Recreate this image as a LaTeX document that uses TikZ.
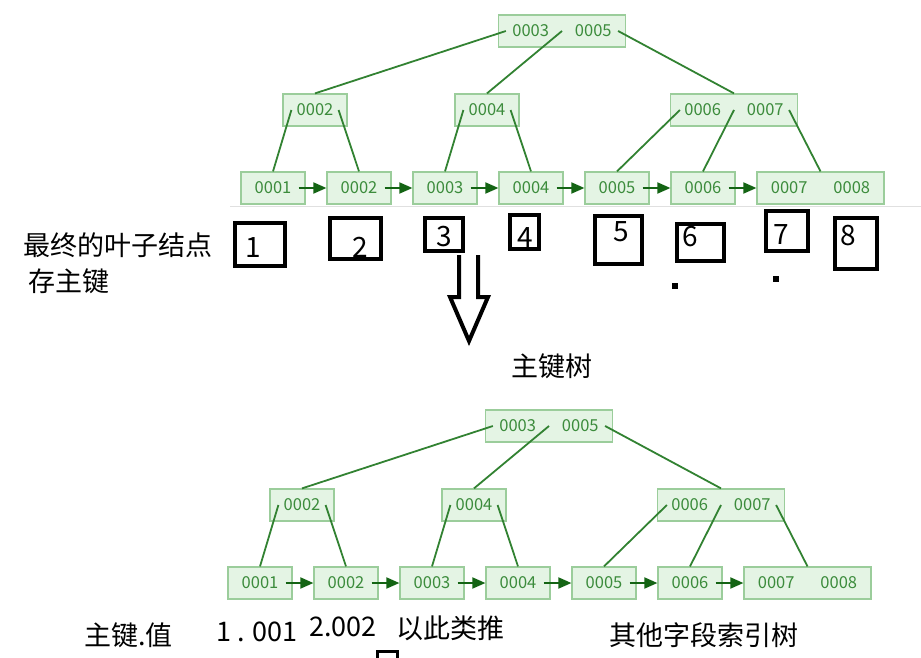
\documentclass[tikz,border=0pt]{standalone}
\usepackage{fontspec}
\newfontfamily\cjk{Noto Sans CJK SC}
\definecolor{keyfill}{RGB}{228,244,228}
\definecolor{keydraw}{RGB}{155,205,155}
\definecolor{keytext}{RGB}{60,140,60}
\definecolor{treeline}{RGB}{50,130,50}
\definecolor{treearrow}{RGB}{20,100,20}
\usetikzlibrary{arrows.meta,positioning}
\tikzset{
	key/.style={
		rectangle,
		draw=keydraw,
		fill=keyfill,
		line width=1.2pt,
		text=keytext,
		font=\cjk\fontsize{16.5}{16.5}\selectfont,
		minimum width=64pt,
		minimum height=32pt,
		inner sep=0pt,
	},
	wkey/.style={
		key,
		minimum width=127pt,
	},
	branch/.style={
		treeline,
		line width=1.8pt,
	},
	link/.style={
		-{Triangle[length=13pt,width=11pt]},
		treearrow,
		line width=1.8pt,
	},
	numbox/.style={
		draw,
		line width=4pt,
	},
	num/.style={
		font=\cjk\fontsize{28}{28}\selectfont,
		inner sep=0pt,
	},
	note/.style={
		font=\cjk\fontsize{27}{27}\selectfont,
		inner sep=0pt,
	},
}
\begin{document}
\begin{tikzpicture}[x=1pt,y=-1pt]
	\useasboundingbox (0,0) rectangle (921,658);
	\draw[black!12,line width=1pt] (230,206) -- (921,206);
	% the same tree twice: primary key tree and secondary index tree
	\foreach \tn/\sx/\sy in {a/0/0,b/-13/395}{
	\begin{scope}[shift={(\sx,\sy)}]
		\node[key] (\tn l1) at (273,188) {0001};
		\node[key,right=20.8pt of \tn l1] (\tn l2) {0002};
		\node[key,right=20.8pt of \tn l2] (\tn l3) {0003};
		\node[key,right=20.8pt of \tn l3] (\tn l4) {0004};
		\node[key,right=20.8pt of \tn l4] (\tn l5) {0005};
		\node[key,right=20.8pt of \tn l5] (\tn l6) {0006};
		\node[wkey,right=20.8pt of \tn l6] (\tn l7) {0007\hspace{26pt}0008};
		\node[key] (\tn m1) at (315,110) {0002};
		\node[key] (\tn m2) at (487,110) {0004};
		\node[wkey] (\tn m3) at (734,110) {0006\hspace{26pt}0007};
		\node[wkey] (\tn r) at (562,31) {0003\hspace{26pt}0005};

		\draw[branch] ([xshift=8pt]\tn r.west) -- (\tn m1.north);
		\draw[branch] (\tn r.center) -- (\tn m2.north);
		\draw[branch] ([xshift=-8pt]\tn r.east) -- (\tn m3.north);
		\draw[branch] ([xshift=9pt]\tn m1.west) -- (\tn l1.north);
		\draw[branch] ([xshift=-9pt]\tn m1.east) -- (\tn l2.north);
		\draw[branch] ([xshift=9pt]\tn m2.west) -- (\tn l3.north);
		\draw[branch] ([xshift=-9pt]\tn m2.east) -- (\tn l4.north);
		\draw[branch] ([xshift=10pt]\tn m3.west) -- (\tn l5.north);
		\draw[branch] (\tn m3.center) -- (\tn l6.north);
		\draw[branch] ([xshift=-9pt]\tn m3.east) -- (\tn l7.north);
		\foreach \i [count=\j from 2] in {1,...,6}
			\draw[link] ([xshift=-7pt]\tn l\i.east) -- (\tn l\j.west);
	\end{scope}}

	% hand-drawn boxes under the leaves
	\foreach \n/\xa/\ya/\xb/\yb/\tx/\ty in {1/235/223/285/266/253/248,2/330/218/381/259/360/247,
		3/425/218/463/251/444/237,4/510/215/539/249/525/238,5/595/216/642/264/621/232,
		6/677/224/724/261/690/237,7/766/211/808/251/781/235,8/835/218/877/269/848/236}{
		\draw[numbox] (\xa,\ya) rectangle (\xb,\yb);
		\node[num] (num\n) at (\tx,\ty) {\n};
	}
	\fill (672,283) rectangle (678,289);
	\fill (773,276) rectangle (779,282);
	\draw[line width=4pt] (459,255) -- (459,297) -- (450,297) -- (469,341) -- (488,297) -- (478,297) -- (478,255);
	\draw[line width=3pt] (377,651) rectangle (397,668);

	\node[note,anchor=west] (leafnote) at (23,245) {最终的叶子结点};
	\node[note,anchor=west] (pknote) at (28,281) {存主键};
	\node[note] (pktree) at (552,366) {主键树};
	\node[note,anchor=west] (pkval) at (84,635) {主键.值};
	\node[note,anchor=west] (val1) at (216,632) {1 . 001};
	\node[note,anchor=west] (val2) at (309,627) {2.002};
	\node[note,anchor=west] (etc) at (396,628) {以此类推};
	\node[note,anchor=west] (othertree) at (609,635) {其他字段索引树};
\end{tikzpicture}
\end{document}
